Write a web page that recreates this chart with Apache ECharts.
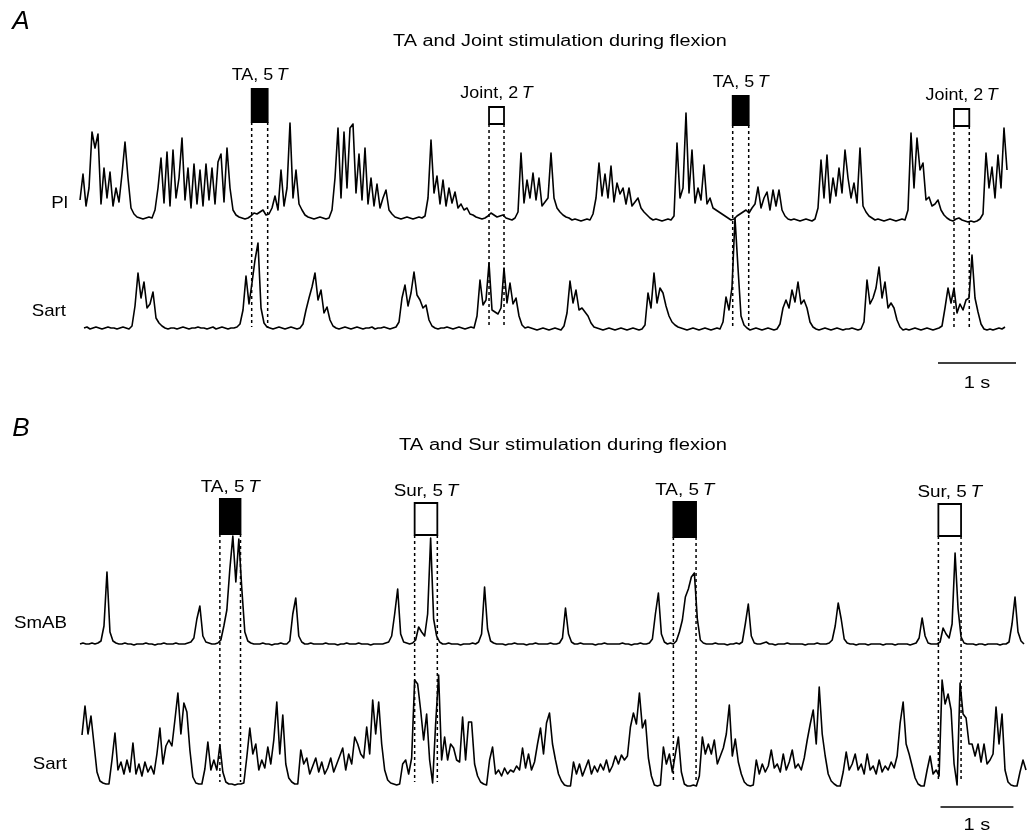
<!DOCTYPE html>
<html>
<head>
<meta charset="utf-8">
<script src="https://cdn.jsdelivr.net/npm/echarts@6/dist/echarts.min.js"></script>
<style>
  html, body { margin: 0; padding: 0; background: #fff; }
  #chart { width: 1028px; height: 835px; }
</style>
</head>
<body>
<div id="chart"></div>
<script>
// ---------------- DATA ----------------
// Panel A: amplitudes (arbitrary units) sampled every SAMPLE_DT_A seconds
const SAMPLE_DT_A = 3 / 78;      // s per sample
const T0_PI = 0.0;               // s
const T0_SART_A = 4 / 78;        // s

const piValues = [
  18,44,12,30,86,70,84,14,50,20,
  46,12,30,16,44,76,40,10,4,1,
  0,-1,0,1,0,8,30,60,15,66,
  12,68,20,40,80,18,50,10,54,14,
  48,12,54,18,50,14,56,64,16,70,
  30,8,3,1,0,-1,0,2,5,4,
  6,8,3,4,10,22,8,48,12,30,
  95,20,48,14,8,3,1,0,-1,0,
  1,0,-1,0,8,40,90,20,86,30,
  90,94,25,64,18,70,14,40,12,34,
  10,20,28,8,4,1,0,-1,0,1,
  0,-1,0,1,0,2,20,78,25,42,
  14,38,12,30,15,26,10,14,8,10,
  4,3,1,0,-1,0,2,5,3,1,
  2,3,0,-1,-2,0,6,65,15,38,
  20,45,18,40,12,16,20,65,20,10,
  6,3,1,0,-2,-1,-2,-3,-2,-1,
  -2,4,20,55,22,44,20,52,16,35,
  24,30,14,30,12,16,20,10,6,3,
  0,-2,-1,-2,-3,-2,-1,-2,2,75,
  20,30,105,25,68,15,30,18,53,14,
  20,10,8,6,4,2,0,-2,-1,2,
  4,6,8,5,10,14,31,10,20,26,
  8,28,12,28,8,2,-1,-2,-1,-2,
  -3,-2,-1,-2,-3,-1,10,58,20,63,
  15,40,22,50,25,68,40,20,35,15,
  70,12,6,2,0,-2,-1,-2,-3,-2,
  -1,-2,-3,-2,-1,-2,8,85,30,80,
  48,55,18,21,12,14,18,8,3,0,
  -2,-3,-1,0,-2,-3,-4,-3,-4,-3,
  -1,4,65,30,51,20,63,30,90,48
];

const sartAValues = [
  0,1,-1,0,1,0,-1,0,1,0,
  0,-1,0,1,0,-1,2,22,55,30,
  46,20,24,36,10,5,2,0,-1,0,
  0,-1,0,1,0,-1,0,0,1,0,
  0,-1,0,1,-1,0,1,0,-1,0,
  0,1,4,18,52,24,45,68,85,20,
  5,1,0,-1,0,1,0,-1,0,1,
  0,-1,0,4,18,30,41,55,28,38,
  15,21,8,2,0,-1,0,1,0,-1,
  0,1,0,-1,0,0,1,-1,0,0,
  1,0,-1,0,1,6,30,43,22,35,
  56,33,28,20,23,8,2,0,-1,0,
  0,1,0,-1,0,1,0,-1,0,1,
  0,12,48,23,28,65,18,16,14,20,
  60,25,45,24,30,12,3,0,1,0,
  -1,-2,-1,0,-1,-2,-1,0,-1,-2,
  2,15,47,25,38,18,20,16,12,5,
  1,0,-1,-2,-1,0,-1,-2,-1,0,
  -1,-2,-1,0,-1,-2,-1,3,35,20,
  55,25,40,35,22,12,6,3,1,0,
  -1,-2,-1,0,-1,-2,-1,0,-1,-2,
  -1,0,-1,6,31,18,41,110,60,12,
  3,0,-2,-1,0,-1,-2,-1,0,-1,
  -2,-1,4,20,28,20,38,26,46,24,
  28,20,6,1,-1,-2,-1,0,-1,-2,
  -1,0,-1,-2,-1,-1,0,-1,-2,-1,
  6,48,24,30,40,61,30,46,20,25,
  20,8,1,-2,-1,-2,-1,0,-1,-2,
  -1,0,-1,-2,-1,0,2,20,40,25,
  40,15,24,18,28,30,73,30,16,4,
  -1,-2,-1,-2,-1,0,-1,1
];

// Panel B
const SAMPLE_DT_B = 3 / 73;      // s per sample
const T0_SMAB = 0.0;
const T0_SART_B = 2 / 73;

const smabValues = [
  0,1,0,0,1,0,1,3,18,72,
  12,3,1,0,0,1,0,0,-1,0,
  0,0,1,0,0,-1,0,0,1,0,
  0,0,1,0,0,0,1,2,6,25,
  38,8,2,1,0,0,1,4,18,34,
  75,108,62,105,55,12,3,1,0,0,
  0,1,0,0,-1,0,0,1,0,0,
  3,30,46,8,2,0,0,1,0,0,
  0,0,1,0,0,0,-1,0,0,1,
  0,0,0,1,0,0,0,-1,0,0,
  0,0,1,2,8,30,55,10,2,1,
  0,1,4,17,12,8,30,106,25,8,
  2,0,0,1,0,0,0,-1,0,0,
  0,1,0,2,10,57,15,3,1,0,
  0,0,-1,0,0,1,0,0,0,-1,
  0,0,1,0,0,0,0,1,0,0,
  1,6,36,10,2,0,0,1,0,0,
  0,0,-1,0,0,1,0,0,0,0,
  0,1,0,0,-1,0,0,1,0,0,
  1,5,30,51,10,2,0,1,0,3,
  12,24,47,55,67,71,25,4,1,0,
  0,0,1,0,0,0,-1,0,0,1,
  0,2,20,40,8,1,0,0,1,2,
  0,0,-1,0,0,0,1,0,0,0,
  0,0,-1,0,0,0,1,0,0,0,
  1,4,18,41,25,5,1,0,0,-1,
  0,0,0,-1,0,0,0,0,-1,0,
  0,0,-1,0,0,0,0,-1,0,1,
  6,26,8,1,0,0,0,2,16,10,
  6,20,91,35,7,1,0,0,0,-1,
  0,0,-1,0,0,0,0,-1,0,0,
  2,20,47,12,3,0
];

const sartBValues = [
  49,78,50,68,40,12,3,1,0,0,
  24,51,14,22,10,24,12,41,10,20,
  8,22,12,18,10,30,56,20,38,44,
  38,64,91,50,81,72,34,7,1,0,
  0,15,42,14,24,14,39,12,2,0,
  0,-1,0,0,1,27,56,30,40,14,
  24,16,37,20,44,82,30,69,20,6,
  2,0,0,34,20,26,10,18,26,12,
  22,10,16,26,12,20,28,36,14,30,
  20,47,40,30,26,57,30,84,50,82,
  40,14,4,1,0,-1,0,20,24,10,
  26,104,100,74,44,70,24,1,60,109,
  24,47,24,40,36,24,22,67,24,62,
  62,20,8,2,0,-1,24,37,10,14,
  8,16,10,14,12,18,14,36,16,30,
  14,22,40,56,30,61,71,40,24,10,
  3,-1,-2,-2,22,10,20,8,16,24,
  10,18,12,20,14,24,12,18,28,20,
  29,24,28,57,71,60,91,56,64,26,
  8,-1,-2,-1,37,20,30,12,30,47,
  12,0,-2,-2,-1,-2,8,47,30,40,
  30,44,20,28,36,50,79,28,45,22,
  10,2,-1,-2,-1,24,10,20,12,18,
  34,16,20,12,30,14,22,34,16,20,
  14,26,44,60,74,40,97,50,28,10,
  3,0,-2,-2,12,32,14,20,30,14,
  20,10,30,14,18,10,24,12,18,14,
  22,16,28,61,82,40,30,18,6,0,
  -2,-2,14,28,10,14,8,104,80,90,
  74,20,-1,101,70,66,40,40,28,40,
  22,40,20,24,30,77,40,70,14,2,
  -1,-2,-2,12,24,14
];

// Stimulus trains (s)
const stimA_on   = [2.201, 5.244, 8.368, 11.205];
const stimA_off  = [2.406, 5.436, 8.573, 11.401];
const stimA_name = ['TA', 'Joint', 'TA', 'Joint'];
const stimA_mult = ['5', '2', '5', '2'];

const stimB_on   = [1.918, 4.589, 8.137, 11.771];
const stimB_off  = [2.201, 4.900, 8.448, 12.082];
const stimB_name = ['TA', 'Sur', 'TA', 'Sur'];
const stimB_mult = ['5', '5', '5', '5'];

// 1 s time-scale bars (s)
const scaleBarA = [11.0, 12.0];
const scaleBarB = [11.8, 12.8];

// Text
const panelLetters = ['A', 'B'];
const panelTitles = ['TA and Joint stimulation during flexion', 'TA and Sur stimulation during flexion'];
const traceNames = ['Pl', 'Sart', 'SmAB', 'Sart'];
const scaleLabel = '1 s';

// ---------------- LAYOUT / STYLE ----------------
const FONT = "'Liberation Sans', Arial, Helvetica, sans-serif";
const gridA = { left: 80, top: 60, width: 936, height: 300 };
const gridB = { left: 80, top: 470, width: 949, height: 340 };
// pixel row of each trace's zero line (1 amplitude unit = 1 px)
const baseA = { pi: 218, sart: 328 };
const baseB = { smab: 644, sart: 784 };
const stimLayoutA = { top: [89, 107, 96, 109], bottom: [122, 124, 125, 126], dashEnd: 327, labelGap: 13, labelScale: 1.12 };
const stimLayoutB = { top: [499, 503, 502, 504], bottom: [534, 535, 537, 536], dashEnd: 782, labelGap: 11, labelScale: 1.18 };

function series2xy(vals, t0, dt) {
  return vals.map((v, i) => [t0 + i * dt, v]);
}
function yRange(grid, basePx) {
  return { min: basePx - (grid.top + grid.height), max: basePx - grid.top };
}

const traceStyle = { color: '#000', width: 1.6, join: 'round' };
function traceSeries(name, xi, yi, data) {
  return {
    name, type: 'line', xAxisIndex: xi, yAxisIndex: yi, data,
    showSymbol: false, symbol: 'none', silent: true, z: 3,
    lineStyle: traceStyle, animation: false
  };
}

function stimRender(layout, names, mults) {
  return function (params, api) {
    const i = params.dataIndex;
    const x0 = api.coord([api.value(0), 0])[0];
    const x1 = api.coord([api.value(1), 0])[0];
    const top = layout.top[i], bot = layout.bottom[i];
    const filled = names[i] === 'TA';
    const dash = { stroke: '#000', lineWidth: 1.5, lineDash: [3, 3], fill: null };
    return {
      type: 'group',
      children: [
        { type: 'line', shape: { x1: x0, y1: bot, x2: x0, y2: layout.dashEnd }, style: dash },
        { type: 'line', shape: { x1: x1, y1: bot, x2: x1, y2: layout.dashEnd }, style: dash },
        { type: 'rect', shape: { x: x0, y: top, width: x1 - x0, height: bot - top },
          style: { fill: filled ? '#000' : '#fff', stroke: '#000', lineWidth: 1.8 } },
        { type: 'text', x: (x0 + x1) / 2, y: top - layout.labelGap, scaleX: layout.labelScale,
          style: {
            text: '{n|' + names[i] + ', ' + mults[i] + '\u2009}{t|T}',
            align: 'center', verticalAlign: 'middle',
            fontSize: 16, fontFamily: FONT, fill: '#000',
            rich: {
              n: { fontSize: 16, fontFamily: FONT, fill: '#000' },
              t: { fontSize: 16, fontFamily: FONT, fontStyle: 'italic', fill: '#000' }
            }
          } }
      ]
    };
  };
}

function scaleRender(barY, textY) {
  return function (params, api) {
    const x0 = api.coord([api.value(0), 0])[0];
    const x1 = api.coord([api.value(1), 0])[0];
    return {
      type: 'group',
      children: [
        { type: 'line', shape: { x1: x0, y1: barY, x2: x1, y2: barY }, style: { stroke: '#000', lineWidth: 1.6 } },
        { type: 'text', x: (x0 + x1) / 2, y: textY, scaleX: 1.25,
          style: { text: scaleLabel, align: 'center', verticalAlign: 'middle', fontSize: 16, fontFamily: FONT, fill: '#000' } }
      ]
    };
  };
}

function gText(text, x, y, opts) {
  return Object.assign({
    type: 'text', x, y, silent: true,
    style: Object.assign({ text, fontSize: 16, fontFamily: FONT, fill: '#000', align: 'center', verticalAlign: 'middle' }, (opts && opts.style) || {})
  }, (opts && opts.el) || {});
}

const rPI = yRange(gridA, baseA.pi), rSA = yRange(gridA, baseA.sart);
const rSM = yRange(gridB, baseB.smab), rSB = yRange(gridB, baseB.sart);

const option = {
  animation: false,
  backgroundColor: '#fff',
  grid: [gridA, gridB],
  xAxis: [
    { gridIndex: 0, type: 'value', min: 0, max: 12, show: false },
    { gridIndex: 1, type: 'value', min: 0, max: 13, show: false }
  ],
  yAxis: [
    { gridIndex: 0, type: 'value', min: rPI.min, max: rPI.max, show: false },
    { gridIndex: 0, type: 'value', min: rSA.min, max: rSA.max, show: false },
    { gridIndex: 0, type: 'value', min: 0, max: 1, show: false },
    { gridIndex: 1, type: 'value', min: rSM.min, max: rSM.max, show: false },
    { gridIndex: 1, type: 'value', min: rSB.min, max: rSB.max, show: false },
    { gridIndex: 1, type: 'value', min: 0, max: 1, show: false }
  ],
  series: [
    { type: 'custom', xAxisIndex: 0, yAxisIndex: 2, silent: true, z: 2,
      renderItem: stimRender(stimLayoutA, stimA_name, stimA_mult),
      data: stimA_on.map((s, i) => [s, stimA_off[i]]) },
    { type: 'custom', xAxisIndex: 1, yAxisIndex: 5, silent: true, z: 2,
      renderItem: stimRender(stimLayoutB, stimB_name, stimB_mult),
      data: stimB_on.map((s, i) => [s, stimB_off[i]]) },
    { type: 'custom', xAxisIndex: 0, yAxisIndex: 2, silent: true, z: 2,
      renderItem: scaleRender(363, 384), data: [scaleBarA] },
    { type: 'custom', xAxisIndex: 1, yAxisIndex: 5, silent: true, z: 2,
      renderItem: scaleRender(807, 826), data: [scaleBarB] },
    traceSeries('Pl', 0, 0, series2xy(piValues, T0_PI, SAMPLE_DT_A)),
    traceSeries('Sart A', 0, 1, series2xy(sartAValues, T0_SART_A, SAMPLE_DT_A)),
    traceSeries('SmAB', 1, 3, series2xy(smabValues, T0_SMAB, SAMPLE_DT_B)),
    traceSeries('Sart B', 1, 4, series2xy(sartBValues, T0_SART_B, SAMPLE_DT_B))
  ],
  graphic: [
    gText(panelLetters[0], 21, 22, { style: { fontSize: 26, fontStyle: 'italic' } }),
    gText(panelLetters[1], 21, 429, { style: { fontSize: 26, fontStyle: 'italic' } }),
    gText(panelTitles[0], 560, 42, { el: { scaleX: 1.24 } }),
    gText(panelTitles[1], 563, 446, { el: { scaleX: 1.26 } }),
    gText(traceNames[0], 68, 203, { style: { fontSize: 17, align: 'right' }, el: { scaleX: 1.1 } }),
    gText(traceNames[1], 66, 311, { style: { fontSize: 17, align: 'right' }, el: { scaleX: 1.1 } }),
    gText(traceNames[2], 67, 623, { style: { fontSize: 17, align: 'right' }, el: { scaleX: 1.1 } }),
    gText(traceNames[3], 67, 764, { style: { fontSize: 17, align: 'right' }, el: { scaleX: 1.1 } })
  ]
};

const chart = echarts.init(document.getElementById('chart'), null, { renderer: 'canvas' });
chart.setOption(option);
</script>
</body>
</html>
